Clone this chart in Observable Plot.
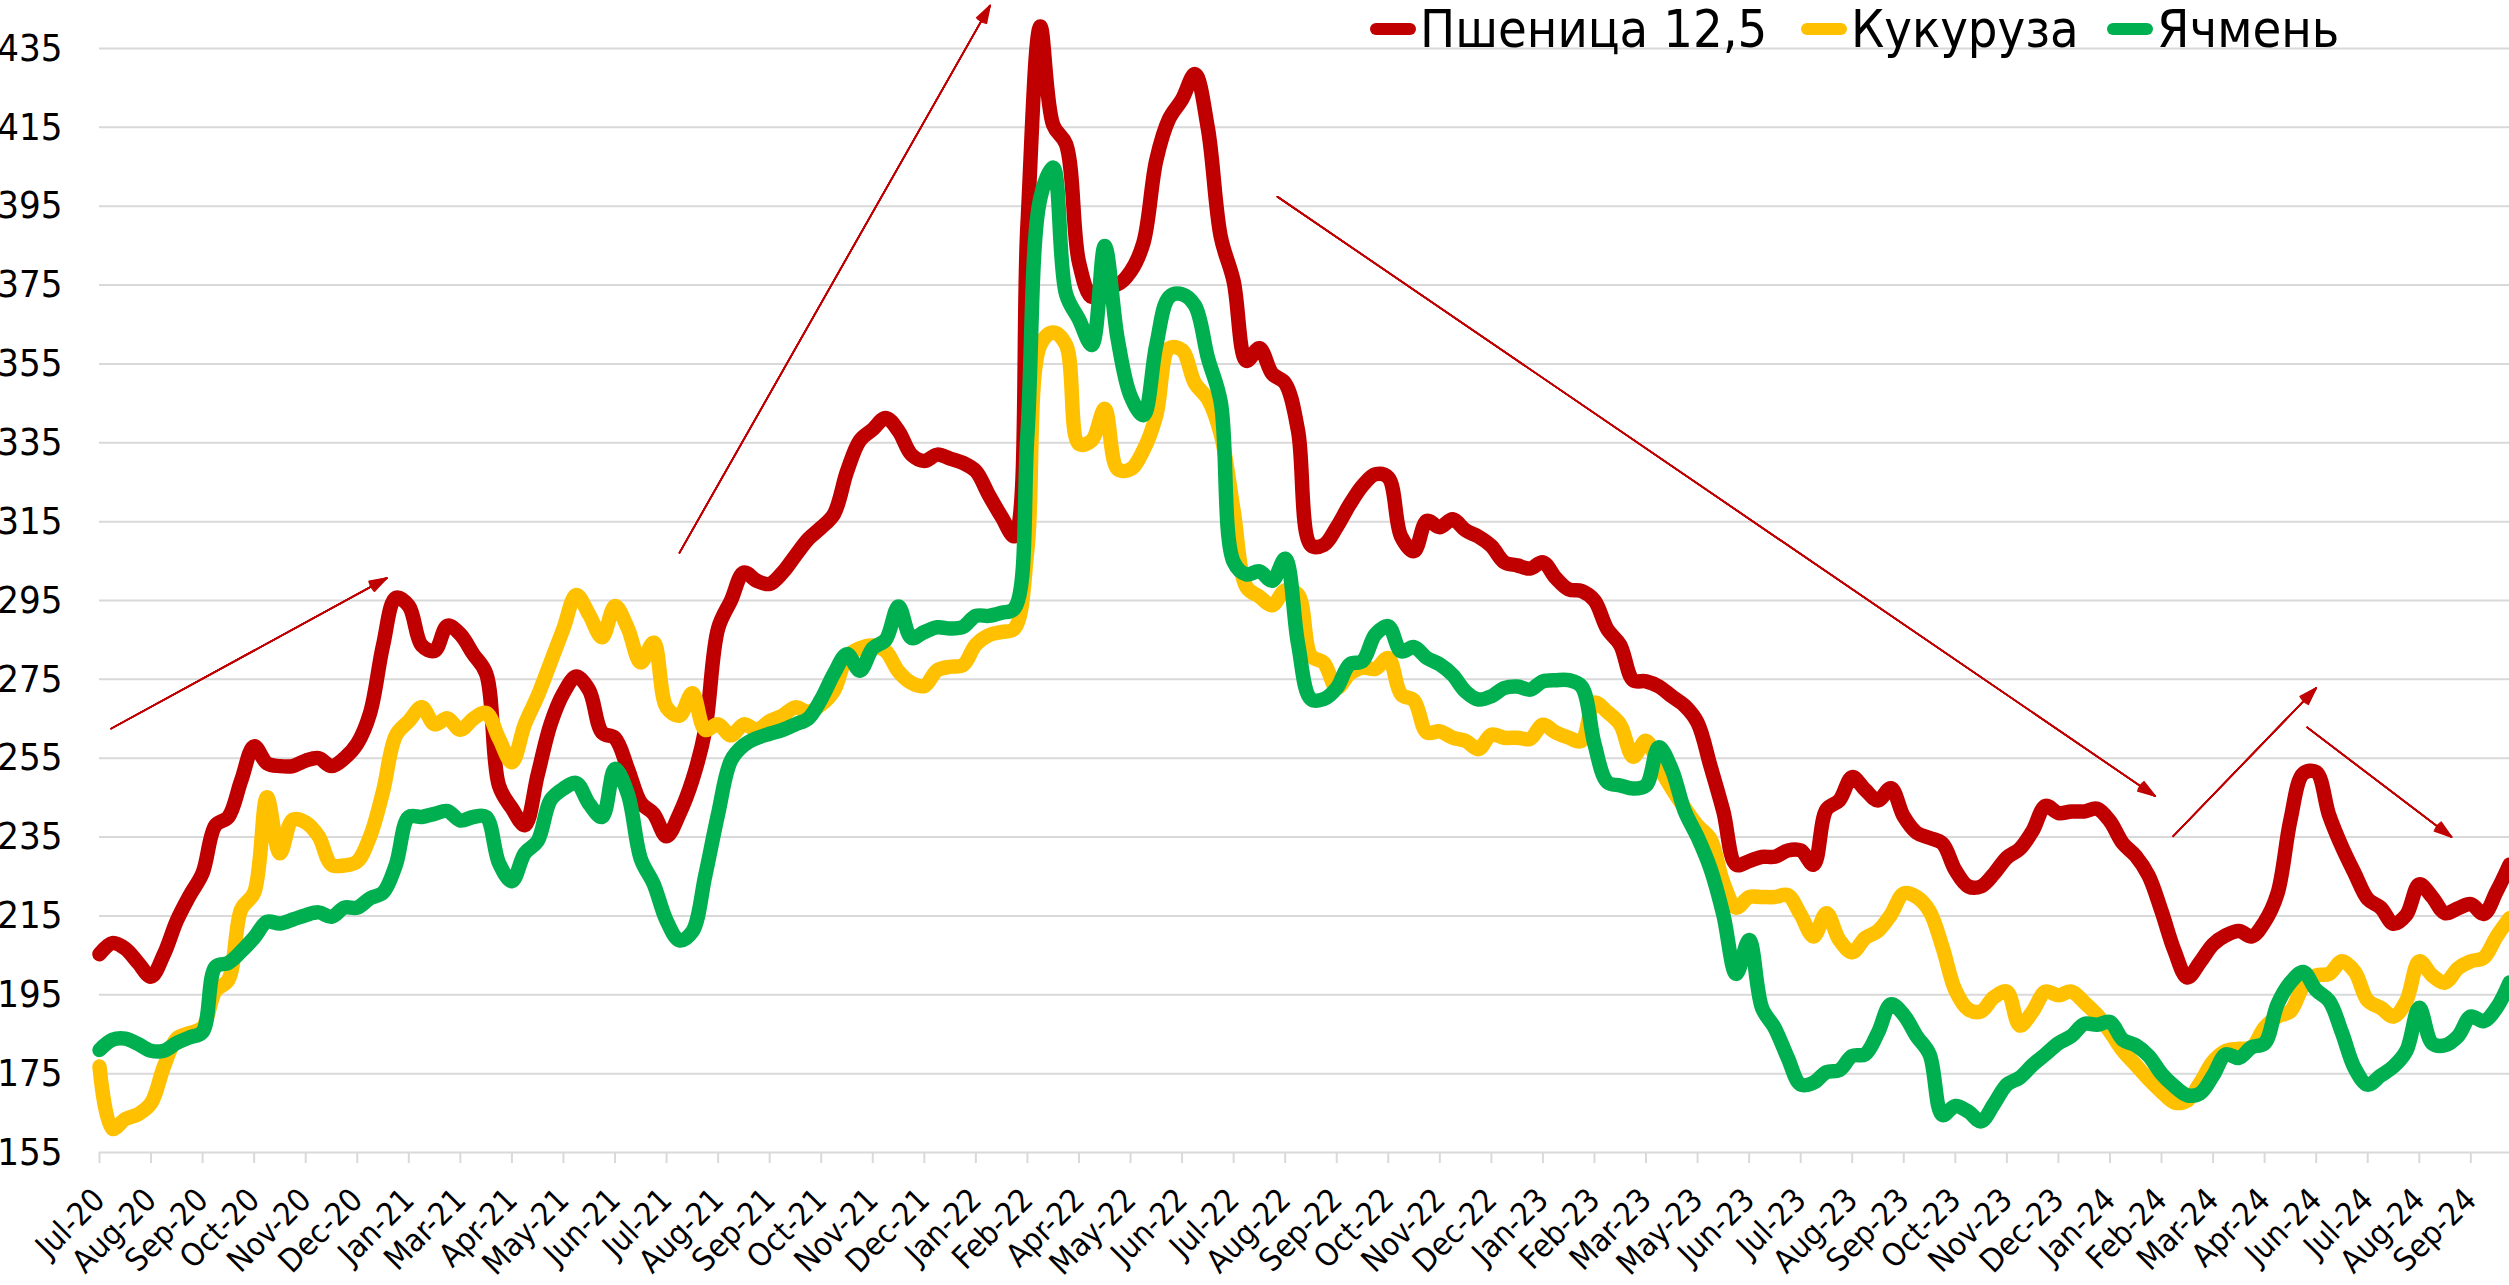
<!DOCTYPE html>
<html><head><meta charset="utf-8">
<script src="https://cdn.jsdelivr.net/npm/d3@7"></script>
<script src="https://cdn.jsdelivr.net/npm/@observablehq/plot@0.6"></script>
<style>
html,body{margin:0;padding:0;background:#fff;overflow:hidden}
#wrap{position:relative;width:2509px;height:1285px;}
#chart{position:absolute;left:0;top:0}
.legend-item{position:absolute;top:0;height:58px;display:flex;align-items:center;font-family:"Liberation Sans Narrow","Arial Narrow","DejaVu Sans Condensed","Liberation Sans",sans-serif;font-size:52px;color:#000;white-space:nowrap}
.swatch{display:inline-block;width:46px;height:12px;border-radius:6px;margin-right:4px}
</style></head>
<body><div id="wrap"><div id="chart"></div><div id="legend"></div></div>
<script>
// ---- data ----
const tickLabels = ["Jul-20","Aug-20","Sep-20","Oct-20","Nov-20","Dec-20","Jan-21","Mar-21","Apr-21","May-21","Jun-21","Jul-21","Aug-21","Sep-21","Oct-21","Nov-21","Dec-21","Jan-22","Feb-22","Apr-22","May-22","Jun-22","Jul-22","Aug-22","Sep-22","Oct-22","Nov-22","Dec-22","Jan-23","Feb-23","Mar-23","May-23","Jun-23","Jul-23","Aug-23","Sep-23","Oct-23","Nov-23","Dec-23","Jan-24","Feb-24","Mar-24","Apr-24","Jun-24","Jul-24","Aug-24","Sep-24"];
const pointsPerTick = 4;

const wheat = [205.3,208.1,206.7,203.1,199.6,205.3,213.8,220.2,225.9,238,
240.1,249.4,258,253.7,253,253,254.4,255,253,255,
258.7,266.5,283.6,295.7,293.6,283.6,282.2,288.6,286.4,281.4,
276.5,248,242.3,238,250.8,263.6,271.5,275.7,272.2,261.5,
260.1,252.3,243.7,240.9,235.2,240.9,249.4,262.2,287.9,295,
302.1,300,299.2,302.1,306.4,310.6,313.5,317,327.7,335.6,
338.4,341.3,338,332,330.4,332,331,329.9,327.8,321.8,
316.2,311.3,390,440.6,415.6,410.7,380.8,372,376,375.2,
378.4,385.7,406.7,417.2,422.1,428.5,414.8,387.3,376,355.8,
359,352.5,350.1,338,309,309.1,313.6,319.3,324.1,327,
326.2,311.2,307.5,315.2,313.6,315.6,312.8,311.2,308.8,304.7,
303.9,303.1,304.7,300.7,297.8,297.4,295,287.7,283.7,274.8,
274.5,273.2,270.7,268.3,264,253,241.5,228,228.9,230,
230,231.6,231.6,228,242,244.3,250.2,247,244.3,247.4,
240.2,236.1,234.8,233.4,226.6,222.5,222.5,225.7,229.8,232,
236.6,242.9,241.1,241.5,241.5,242.2,239,233.4,230.2,225.2,
216.2,206.2,199.4,203.3,207.8,210.1,211.2,209.8,213.5,220.7,
239.3,251.1,251.5,240.6,232.5,225.7,219.3,217.1,213,215.3,
223,219.8,215.7,216.9,218,215.5,221.2,228];

const corn = [176.8,161,163.5,164.7,167.5,176.8,183.9,185.3,186.7,196,
198.8,216.7,220.9,245.1,230.9,239.4,238.7,235.2,228,227.8,
228.8,235.2,246.6,260.8,264.4,267.9,263.6,265.1,262.2,265,
266.5,260,254,263.6,270.8,279.3,287.9,296.4,291.4,285.7,
293.6,287.9,279.3,284.3,267.9,265.8,271.5,262.2,263.6,260.8,
263.6,262.2,264.4,265.8,267.9,266.8,268.6,272.2,280.7,282.9,
283.6,282.2,277,274.1,273.3,277.3,278.2,278.6,283.8,286.2,
287,287.9,308,359.8,363,359.8,334.7,335.6,343.6,328.3,
328.3,333.1,342,359,358.5,350.1,346.1,337.2,317.8,298.4,
296,293.8,297.6,296.5,281,279.2,272.8,276.4,278,277.7,
280.4,271.2,269.6,261.5,261.8,260.2,259.4,257.3,261,260.2,
260.2,259.9,263.5,261.5,260.2,259.4,269.1,266.7,263.5,255.4,
259.4,252.9,247.3,242.4,237.9,234.5,223.4,217.1,219.8,219.8,
219.8,220.3,215.3,209.8,215.7,208.9,205.8,209.4,211.2,215.3,
220.7,219.8,216.2,207.1,196.2,191.3,190.8,194.4,195.8,187.2,
190.8,195.8,194.9,195.8,193.1,189.9,185.6,180.8,177.2,173.6,
170.4,167.7,168.2,172.7,178.1,180.8,181.3,181.7,186.7,189.5,
190.8,197.2,199.9,200.3,203.5,200.8,193.5,191.7,189.5,193.5,
203.5,199.9,198.1,201.7,203.5,204.4,209.8,214.4];

const barley = [181,183.6,183.9,182.5,180.8,180.8,182.8,184.2,185.6,202.1,
203.1,206,209.5,213.5,213.1,214.1,215.2,215.9,214.8,217.1,
217.1,219.5,220.9,228,240.1,240.1,240.9,241.6,239.2,240.1,
240.1,228.4,223.8,230.9,234,244.4,247.3,248.7,243.4,240.1,
252.3,245.9,229.5,223.1,213.8,208.8,211,225.2,240.9,254.4,
258.3,260.1,261.2,262.2,263.6,265.1,270,276.5,281.4,277.2,
282.9,285,293.5,285.5,287,288.2,287.9,288.3,291.1,291.1,
291.9,293,337.2,397,404.8,372.7,366.3,359.8,384.9,361.4,
346.9,342,359.8,372,372.7,369.8,356.6,345.3,304.8,301.6,
302.4,300,305.6,284,270,270,272.8,278.8,279.6,286.4,
288.5,282.1,283.2,280.4,278.8,276.1,271.9,269.9,270.7,272.8,
273.2,272.4,274.5,274.8,274.8,273.2,258.6,248.9,248.1,247.3,
248.1,257.8,252.1,241.6,235,227,215.3,200.3,208.9,191.7,
186.5,179,172.2,172.7,175.4,175.9,179.5,179.9,185.4,192.6,
189.9,184.5,179.9,164.5,166.8,165.4,162.9,167.3,172.2,174,
177.2,179.9,182.7,184.5,187.6,187.4,188.1,183.6,182.2,179.5,
175,171.8,169.5,170,174.5,179.9,179,181.7,182.7,192.6,
198.1,200.8,196.2,193.5,185.4,176.3,172.2,174.5,176.8,180.8,
191.7,182.7,182.2,184.5,189.5,188.3,191.7,198.1];

const seriesNames = ["Пшеница 12,5", "Кукуруза", "Ячмень"];
const seriesColors = ["#C00000", "#FFC000", "#00B050"];
const yTicks = [155,175,195,215,235,255,275,295,315,335,355,375,395,415,435];

// trend arrows (category index, price)
const trendArrows = [
  {x1: 0.9,   y1: 262.5, x2: 22.3,  y2: 300.7},
  {x1: 45.0,  y1: 307.1, x2: 69.1,  y2: 445.9},
  {x1: 91.4,  y1: 397.4, x2: 159.5, y2: 245.4},
  {x1: 160.9, y1: 235.2, x2: 172.0, y2: 272.8},
  {x1: 171.3, y1: 262.8, x2: 182.5, y2: 235.0}
];

// ---- build ----
const FONT = '"Liberation Sans Narrow","Arial Narrow","DejaVu Sans Condensed","Liberation Sans",sans-serif';
const allSeries = [wheat, corn, barley];
const rows = [];
allSeries.forEach((vals, s) => vals.forEach((v, i) => rows.push({i, v, s: seriesNames[s]})));
const tickIdx = tickLabels.map((_, k) => k * pointsPerTick);

const arrowMarks = [36, 28, 20, 12, 5].map(a => Plot.arrow(trendArrows, {
  x1: "x1", y1: "y1", x2: "x2", y2: "y2",
  stroke: "#C00000", strokeWidth: 1.6, headLength: 17, headAngle: a
}));

const chart = Plot.plot({
  width: 2509, height: 1285,
  marginLeft: 99, marginRight: 0, marginTop: 48, marginBottom: 133,
  style: {fontFamily: FONT, background: "#fff", overflow: "visible", color: "#000"},
  x: {type: "linear", domain: [0, wheat.length - 1], axis: null},
  y: {domain: [155, 435], axis: null},
  color: {domain: seriesNames, range: seriesColors},
  marks: [
    Plot.ruleY(yTicks, {stroke: "#D9D9D9", strokeWidth: 2}),
    Plot.axisY(yTicks, {tickSize: 0, tickPadding: 37, fontSize: 38, fill: "#000"}),
    Plot.axisX(tickIdx, {tickSize: 11, stroke: "#D9D9D9", strokeWidth: 2, tickFormat: () => "", label: null}),
    Plot.text(tickIdx, {
      x: d => d, frameAnchor: "bottom", text: (d, k) => tickLabels[k],
      rotate: -45, textAnchor: "end", lineAnchor: "middle", dy: 42,
      fontSize: 32, fill: "#000"
    }),
    Plot.line(rows, {
      x: "i", y: "v", z: "s", stroke: "s",
      curve: "catmull-rom", strokeWidth: 14.5,
      strokeLinejoin: "round", strokeLinecap: "round"
    }),
    ...arrowMarks
  ]
});
document.getElementById("chart").appendChild(chart);

// legend
const legendLeft = [1370, 1801, 2107];
const lg = document.getElementById("legend");
seriesNames.forEach((name, k) => {
  const item = document.createElement("div");
  item.className = "legend-item";
  item.style.left = legendLeft[k] + "px";
  const sw = document.createElement("span");
  sw.className = "swatch";
  sw.style.background = seriesColors[k];
  item.appendChild(sw);
  item.appendChild(document.createTextNode(name));
  lg.appendChild(item);
});
</script>
</body></html>
